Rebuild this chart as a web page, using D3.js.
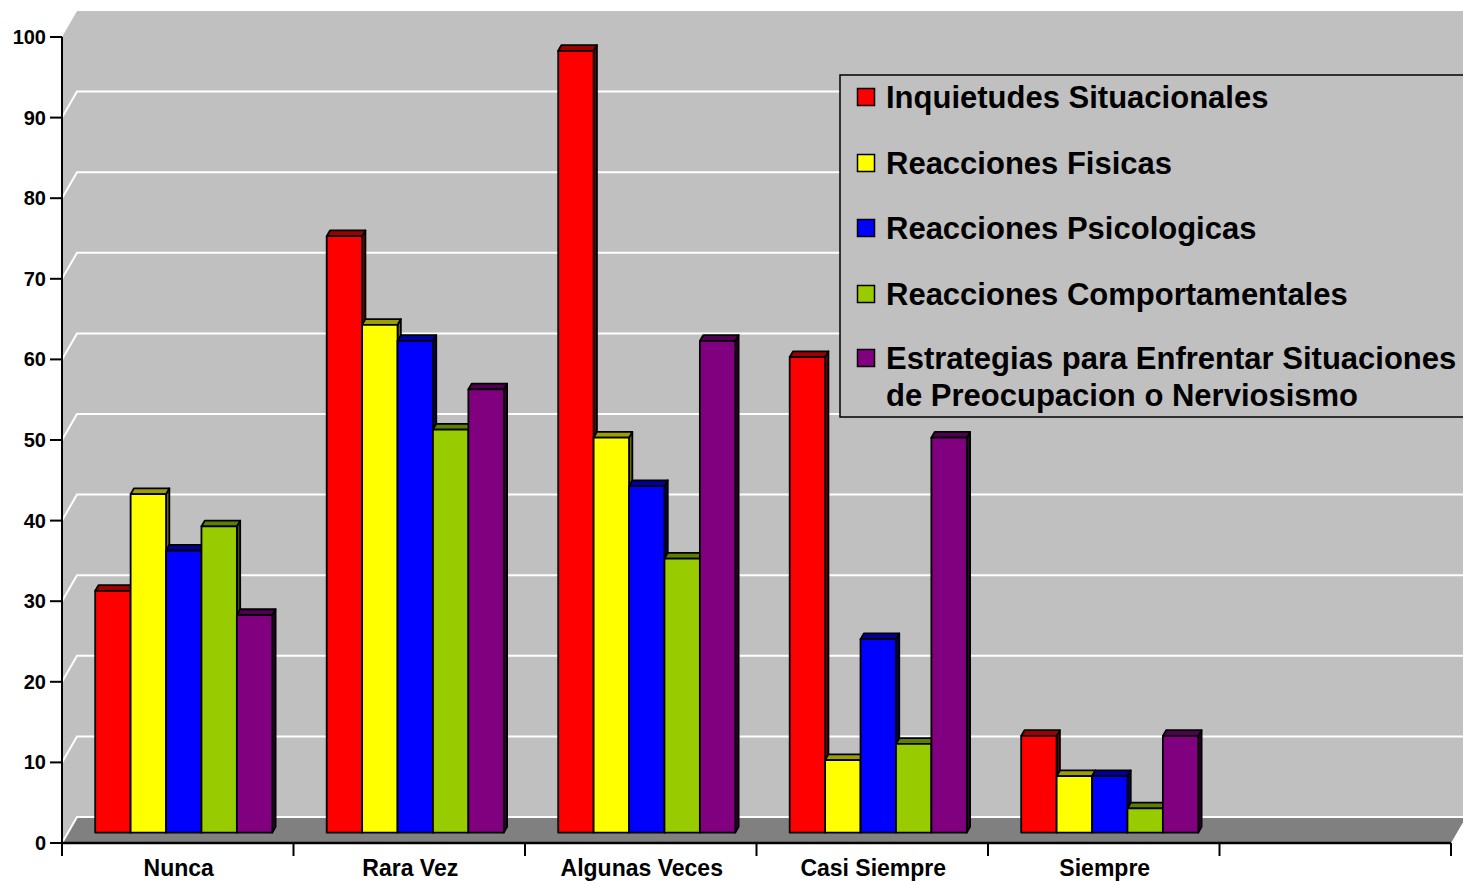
<!DOCTYPE html>
<html>
<head>
<meta charset="utf-8">
<script src="https://cdn.jsdelivr.net/npm/d3@7"></script>
<style>
  html, body { margin: 0; padding: 0; background: #ffffff; }
  svg { display: block; font-family: "Liberation Sans", Arial, Helvetica, sans-serif; }
</style>
</head>
<body>
<svg id="chart" width="1463" height="881"></svg>
<script>
// Response categories (an extra blank slot follows them on the axis)
const categories = ["Nunca", "Rara Vez", "Algunas Veces", "Casi Siempre", "Siempre"];
const axisSlots = [...categories, ""];

// Series names and colours
const seriesNames = [
  "Inquietudes Situacionales",
  "Reacciones Fisicas",
  "Reacciones Psicologicas",
  "Reacciones Comportamentales",
  "Estrategias para Enfrentar Situaciones de Preocupacion o Nerviosismo"
];
const seriesColors = ["#ff0000", "#ffff00", "#0000ff", "#99cc00", "#800080"];

// Values per series, one per category
const inquietudes      = [30, 74, 97, 59, 12];
const fisicas          = [42, 63, 49, 9, 7];
const psicologicas     = [35, 61, 43, 24, 7];
const comportamentales = [38, 50, 34, 11, 3];
const estrategias      = [27, 55, 61, 49, 12];
const seriesValues = [inquietudes, fisicas, psicologicas, comportamentales, estrategias];

// Value-axis ticks
const yTicks = [0, 10, 20, 30, 40, 50, 60, 70, 80, 90, 100];

const svg = d3.select("#chart");

// Front plane of the plot box
const plotLeft = 62, plotRight = 1451, plotBottom = 843, plotTop = 37;
// Depth offset of the back wall relative to the front plane
const depthX = 15, depthY = -26;

const y = d3.scaleLinear().domain([0, 100]).range([plotBottom, plotTop]);
const x = d3.scaleBand().domain(axisSlots).range([plotLeft, plotRight]).paddingInner(0).paddingOuter(0);
const groupWidth = x.step() * 0.765;
const inner = d3.scaleBand().domain(d3.range(seriesNames.length)).range([0, groupWidth]).padding(0);

const off = z => [depthX * z, depthY * z];
const pts = arr => arr.map(p => p.join(",")).join(" ");

// Walls and floor
const [bx, by] = off(1);
const wallRight = plotRight + bx + 20;
svg.append("polygon")
  .attr("points", pts([[plotLeft + bx, y(100) + by], [wallRight, y(100) + by], [wallRight, y(0) + by], [plotLeft + bx, y(0) + by]]))
  .attr("fill", "#c0c0c0");
svg.append("polygon")
  .attr("points", pts([[plotLeft, y(100)], [plotLeft + bx, y(100) + by], [plotLeft + bx, y(0) + by], [plotLeft, y(0)]]))
  .attr("fill", "#c0c0c0");
svg.append("polygon")
  .attr("points", pts([[plotLeft, y(0)], [plotLeft + bx, y(0) + by], [plotRight + bx, y(0) + by], [plotRight, y(0)]]))
  .attr("fill", "#808080");

// Gridlines on the back and side walls
const grid = svg.append("g").attr("stroke", "#ffffff").attr("stroke-width", 2).attr("fill", "none");
yTicks.filter(v => v < 100).forEach(v => {
  grid.append("polyline")
    .attr("points", pts([[plotLeft, y(v)], [plotLeft + bx, y(v) + by], [wallRight, y(v) + by]]));
});

// Value axis
const yAxis = svg.append("g");
yAxis.append("line")
  .attr("x1", plotLeft).attr("x2", plotLeft).attr("y1", y(100)).attr("y2", y(0))
  .attr("stroke", "#000").attr("stroke-width", 2);
yAxis.selectAll("line.tick").data(yTicks).join("line")
  .attr("class", "tick")
  .attr("x1", plotLeft - 12).attr("x2", plotLeft).attr("y1", d => y(d)).attr("y2", d => y(d))
  .attr("stroke", "#000").attr("stroke-width", 2);
yAxis.selectAll("text").data(yTicks).join("text")
  .attr("x", 46).attr("y", d => y(d) + 7)
  .attr("text-anchor", "end")
  .attr("font-size", 20).attr("font-weight", "bold")
  .text(d => d);

// Category axis
const xAxis = svg.append("g");
xAxis.append("line")
  .attr("x1", plotLeft).attr("x2", plotRight).attr("y1", plotBottom).attr("y2", plotBottom)
  .attr("stroke", "#000").attr("stroke-width", 2.5);
const boundaries = axisSlots.map(c => x(c)).concat([x(axisSlots[axisSlots.length - 1]) + x.step()]);
xAxis.selectAll("line.tick").data(boundaries).join("line")
  .attr("class", "tick")
  .attr("x1", d => d).attr("x2", d => d).attr("y1", plotBottom).attr("y2", plotBottom + 13)
  .attr("stroke", "#000").attr("stroke-width", 2);
xAxis.selectAll("text").data(categories).join("text")
  .attr("x", d => x(d) + x.step() / 2 + 1)
  .attr("y", 876)
  .attr("text-anchor", "middle")
  .attr("font-size", 23).attr("font-weight", "bold")
  .text(d => d);

// 3D columns: front face at depth zf, back face at depth zb
const zf = 0.40, zb = 0.62;
const [fx, fy] = off(zf);
const [kx, ky] = off(zb);
const bars = svg.append("g").attr("stroke", "#000").attr("stroke-width", 1.8).attr("stroke-linejoin", "round");

categories.forEach((cat, ci) => {
  const g0 = x(cat) + (x.step() - groupWidth) / 2;
  seriesValues.forEach((vals, si) => {
    const v = vals[ci];
    const x0 = g0 + inner(si), x1 = x0 + inner.bandwidth();
    const yt = y(v), y0 = y(0);
    const base = d3.color(seriesColors[si]);
    const topCol = d3.rgb(base.r * 0.62, base.g * 0.62, base.b * 0.62);
    const sideCol = d3.rgb(base.r * 0.42, base.g * 0.42, base.b * 0.42);
    // right side
    bars.append("polygon")
      .attr("points", pts([[x1 + fx, yt + fy], [x1 + kx, yt + ky], [x1 + kx, y0 + ky], [x1 + fx, y0 + fy]]))
      .attr("fill", sideCol);
    // top
    bars.append("polygon")
      .attr("points", pts([[x0 + fx, yt + fy], [x0 + kx, yt + ky], [x1 + kx, yt + ky], [x1 + fx, yt + fy]]))
      .attr("fill", topCol);
    // front
    bars.append("rect")
      .attr("x", x0 + fx).attr("y", yt + fy)
      .attr("width", x1 - x0).attr("height", y0 - yt)
      .attr("fill", seriesColors[si]);
  });
});

// Legend
const legend = svg.append("g");
legend.append("rect")
  .attr("x", 840).attr("y", 75).attr("width", 700).attr("height", 342)
  .attr("fill", "#c0c0c0").attr("stroke", "#000").attr("stroke-width", 1.5);
const rowY = [97, 163, 228, 294, 358];
const legendLines = [
  ["Inquietudes Situacionales"],
  ["Reacciones Fisicas"],
  ["Reacciones Psicologicas"],
  ["Reacciones Comportamentales"],
  ["Estrategias para Enfrentar Situaciones", "de Preocupacion o Nerviosismo"]
];
seriesNames.forEach((name, i) => {
  legend.append("rect")
    .attr("x", 857.5).attr("y", rowY[i] - 8.5).attr("width", 17).attr("height", 17)
    .attr("fill", seriesColors[i]).attr("stroke", "#000").attr("stroke-width", 1.5);
  const t = legend.append("text")
    .attr("x", 886).attr("y", rowY[i] + 11)
    .attr("font-size", 31).attr("font-weight", "bold");
  legendLines[i].forEach((ln, k) => {
    t.append("tspan").attr("x", 886).attr("dy", k === 0 ? 0 : 37).text(ln);
  });
});
</script>
</body>
</html>
